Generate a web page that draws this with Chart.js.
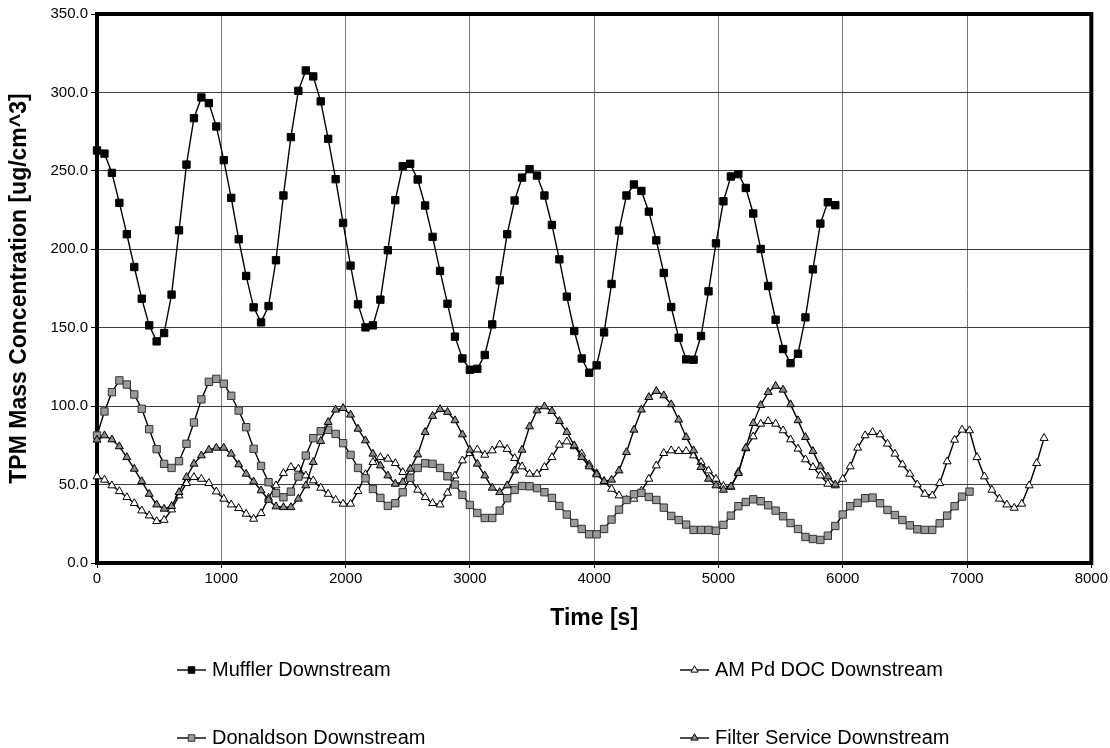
<!DOCTYPE html>
<html><head><meta charset="utf-8">
<script src="https://cdn.jsdelivr.net/npm/chart.js@4.4.1/dist/chart.umd.min.js"></script>
<style>html,body{margin:0;padding:0;background:#fff;}canvas{display:block;}</style>
</head><body>
<canvas id="c" width="1110" height="748"></canvas>
<script>
const times = [0,60,120,180,240,300,360,420,480,540,600,660,720,780,840,900,960,1020,1080,1140,1200,1260,1320,1380,1440,1500,1560,1620,1680,1740,1800,1860,1920,1980,2040,2100,2160,2220,2280,2340,2400,2460,2520,2580,2640,2700,2760,2820,2880,2940,3000,3060,3120,3180,3240,3300,3360,3420,3480,3540,3600,3660,3720,3780,3840,3900,3960,4020,4080,4140,4200,4260,4320,4380,4440,4500,4560,4620,4680,4740,4800,4860,4920,4980,5040,5100,5160,5220,5280,5340,5400,5460,5520,5580,5640,5700,5760,5820,5880,5940,6000,6060,6120,6180,6240,6300,6360,6420,6480,6540,6600,6660,6720,6780,6840,6900,6960,7020,7080,7140,7200,7260,7320,7380,7440,7500,7560,7620];

const mufflerValues = [263.0,261.0,248.7,229.6,209.6,188.7,168.5,151.5,141.3,146.6,
171.1,212.1,254.0,283.6,296.8,293.2,278.3,256.8,232.8,206.4,
183.0,163.0,153.4,163.8,193.0,234.3,271.5,301.0,314.0,310.2,
294.3,270.4,244.7,216.8,189.6,164.9,150.2,151.5,167.9,199.4,
231.3,253.0,254.5,244.5,227.9,207.9,186.2,165.3,144.3,130.4,
123.2,123.8,132.6,152.1,180.2,209.6,231.1,245.7,251.1,247.0,
234.3,215.5,193.6,169.8,147.9,130.4,121.3,126.0,147.0,177.9,
211.9,234.3,241.3,237.2,224.0,205.7,184.9,163.2,143.6,129.8,
129.6,144.7,173.2,203.8,230.6,246.4,247.9,239.1,222.8,200.2,
176.6,155.1,136.4,127.4,133.4,156.6,187.2,216.4,230.0,228.1];

const amPdDocValues = [55.1,53.0,49.4,45.7,41.9,38.1,33.4,30.2,26.6,27.4,
34.0,43.0,50.9,54.7,53.6,50.9,45.5,40.9,37.2,34.9,
31.3,28.1,31.7,41.5,49.4,57.2,61.1,60.0,55.7,52.6,
47.9,44.0,40.2,37.7,37.7,45.7,56.4,64.3,67.4,66.4,
63.6,57.9,54.0,46.6,41.9,38.1,37.2,44.7,55.7,65.3,
70.0,72.3,68.9,71.7,75.5,72.6,66.8,61.5,56.8,56.8,
61.1,67.4,75.3,77.4,74.3,69.6,62.8,57.2,52.1,47.2,
43.0,40.2,40.9,46.0,53.6,62.1,70.0,71.7,71.3,71.3,
68.5,64.3,58.9,53.6,49.0,48.5,58.0,73.0,80.6,88.7,
90.4,88.7,84.5,78.7,72.8,66.0,61.1,55.7,50.4,49.4,
53.6,61.5,73.4,81.3,83.4,81.9,76.0,69.6,62.8,56.8,
50.0,44.0,43.0,50.9,64.7,78.5,84.9,84.5,67.4,55.1,
46.6,40.9,37.2,35.1,37.7,49.4,63.6,79.6];

const donaldsonValues = [81.3,96.6,108.9,116.4,113.8,107.4,98.3,85.3,72.6,63.2,
60.6,64.9,76.0,89.6,104.3,115.5,117.4,114.3,106.6,97.2,
86.6,72.8,61.9,51.5,44.5,41.9,45.5,55.1,68.5,79.6,
84.0,84.9,82.3,76.4,68.9,60.6,54.0,47.2,41.5,36.4,
38.1,45.1,54.3,60.6,63.6,63.2,60.6,55.3,50.0,43.4,
37.0,31.9,28.7,28.7,33.4,41.3,46.6,49.1,48.9,47.7,
45.1,41.5,36.4,30.9,25.5,21.7,18.3,18.3,21.7,27.7,
34.0,40.2,43.8,44.7,42.1,40.2,35.3,30.0,27.4,24.5,
21.1,21.1,21.1,20.6,24.3,30.2,36.2,38.9,40.6,39.4,
36.8,33.4,29.8,25.5,21.7,16.6,15.3,14.7,17.4,23.6,
30.9,36.2,38.3,41.3,41.7,38.1,33.8,30.6,27.4,24.0,
21.5,21.1,21.1,25.3,30.2,36.2,42.3,45.5];

const filterServiceValues = [78.5,81.3,78.7,74.3,67.4,60.0,52.1,44.0,37.2,34.5,
36.2,45.1,54.7,63.2,68.5,72.1,73.4,73.4,69.6,62.8,
56.8,51.9,46.2,40.2,36.0,35.5,35.5,40.9,49.4,64.3,
77.7,89.8,97.7,98.7,94.5,85.5,78.1,69.6,62.1,55.7,
50.4,51.5,60.0,69.1,83.4,93.7,98.0,96.2,90.9,81.9,
72.1,63.2,55.7,47.9,45.1,49.4,58.9,72.1,87.0,97.2,
99.8,96.8,90.4,83.4,74.9,67.4,61.5,56.4,52.1,53.0,
58.9,70.6,84.9,97.7,105.7,109.6,106.8,101.1,91.3,80.2,
71.7,61.1,53.6,49.4,46.6,48.7,57.2,73.4,89.1,100.6,
108.9,112.8,110.4,101.1,90.9,80.2,71.3,61.5,55.1,50.0];

const seriesLabels = ['Muffler Downstream','AM Pd DOC Downstream','Donaldson Downstream','Filter Service Downstream'];
const xTickValues = [0,1000,2000,3000,4000,5000,6000,7000,8000];
const yTickValues = [0,50,100,150,200,250,300,350];

const FONT = 'Liberation Sans, Arial, Helvetica, sans-serif';
const toPts = vals => vals.map((v, i) => ({x: times[i], y: v}));

const styles = [
  {pointStyle:'rect', radius:5.2, bg:'#000000', border:'#000000', order:4},
  {pointStyle:'triangle', radius:4.6, bg:'#ffffff', border:'#000000', order:3},
  {pointStyle:'rect', radius:5.2, bg:'#999999', border:'#333333', order:2},
  {pointStyle:'triangle', radius:4.6, bg:'#8a8a8a', border:'#000000', order:1}
];
const valueSets = [mufflerValues, amPdDocValues, donaldsonValues, filterServiceValues];

const datasets = valueSets.map((vals, k) => ({
  label: seriesLabels[k],
  data: toPts(vals),
  borderColor: '#000',
  borderWidth: 1.4,
  pointStyle: styles[k].pointStyle,
  pointRadius: styles[k].radius,
  pointBackgroundColor: styles[k].bg,
  pointBorderColor: styles[k].border,
  pointBorderWidth: 1,
  tension: 0,
  fill: false,
  clip: 10,
  order: styles[k].order
}));

const bgPlugin = {
  id: 'bg',
  beforeDraw(chart) {
    const ctx = chart.ctx;
    ctx.save(); ctx.fillStyle = '#fff'; ctx.fillRect(0, 0, chart.width, chart.height); ctx.restore();
  }
};
const borderPlugin = {
  id: 'plotBorder',
  beforeDatasetsDraw(chart) {
    const {ctx, chartArea: a} = chart;
    ctx.save(); ctx.strokeStyle = '#000'; ctx.lineWidth = 4;
    ctx.strokeRect(a.left, a.top, a.right - a.left, a.bottom - a.top);
    ctx.restore();
  }
};
const legendSlots = [{x:177, y:670}, {x:680, y:670}, {x:177, y:738}, {x:680, y:738}];
const legendPlugin = {
  id: 'customLegend',
  afterDraw(chart) {
    const ctx = chart.ctx;
    chart.data.datasets.forEach((ds, k) => {
      const s = legendSlots[k];
      ctx.save();
      ctx.strokeStyle = '#000'; ctx.lineWidth = 1.4;
      ctx.beginPath(); ctx.moveTo(s.x, s.y); ctx.lineTo(s.x + 29, s.y); ctx.stroke();
      ctx.fillStyle = ds.pointBackgroundColor; ctx.strokeStyle = ds.pointBorderColor; ctx.lineWidth = 1;
      Chart.helpers.drawPoint(ctx, {pointStyle: ds.pointStyle, radius: ds.pointStyle === 'rect' ? 4.6 : 4.2, rotation: 0, borderWidth: 1}, s.x + 14.5, s.y);
      ctx.fillStyle = '#000'; ctx.font = '20px ' + FONT; ctx.textBaseline = 'middle'; ctx.textAlign = 'left';
      ctx.fillText(ds.label, s.x + 35, s.y);
      ctx.restore();
    });
  }
};

new Chart(document.getElementById('c'), {
  type: 'line',
  data: {datasets},
  plugins: [bgPlugin, borderPlugin, legendPlugin],
  options: {
    responsive: false,
    animation: false,
    devicePixelRatio: 1,
    layout: {padding: {left: 0, top: 14, right: 18, bottom: 113}},
    plugins: {legend: {display: false}, tooltip: {enabled: false}},
    scales: {
      x: {
        type: 'linear', min: 0, max: 8000,
        afterFit(s) { s.height = 72; },
        afterBuildTicks(s) { s.ticks = xTickValues.map(v => ({value: v})); },
        ticks: {color: '#000', font: {family: FONT, size: 15}, padding: 2, maxRotation: 0, autoSkip: false, callback: v => String(v)},
        grid: {color: '#7a7a7a', lineWidth: 1, tickColor: '#000', tickLength: 5},
        border: {display: false},
        title: {display: true, text: 'Time [s]', color: '#000', font: {family: FONT, size: 23, weight: 'bold'}, padding: {top: 0, bottom: 3}}
      },
      y: {
        type: 'linear', min: 0, max: 350,
        afterFit(s) { s.width = 97; },
        afterBuildTicks(s) { s.ticks = yTickValues.map(v => ({value: v})); },
        ticks: {color: '#000', font: {family: FONT, size: 15}, padding: 3, autoSkip: false, callback: v => Number(v).toFixed(1)},
        grid: {color: '#3c3c3c', lineWidth: 1, tickColor: '#000', tickLength: 6},
        border: {display: false},
        title: {display: true, text: 'TPM Mass Concentration [ug/cm^3]', color: '#000', font: {family: FONT, size: 23, weight: 'bold'}, padding: {top: 6, bottom: 0}}
      }
    }
  }
});
</script>
</body></html>
